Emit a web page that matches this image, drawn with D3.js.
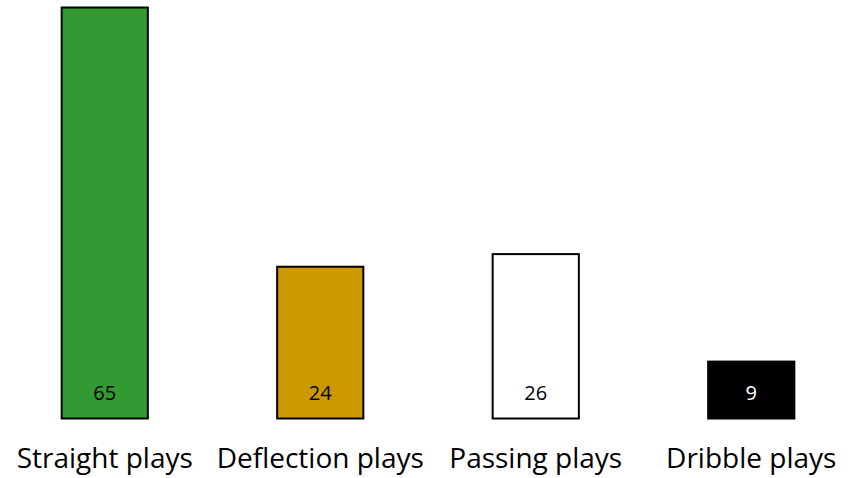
<!DOCTYPE html>
<html><head><meta charset="utf-8">
<script src="https://cdn.jsdelivr.net/npm/d3@7"></script>
<style>body{margin:0;background:#fff}svg{display:block}</style>
</head><body>
<svg id="c" width="854" height="478"></svg>
<script>
const categories = ["Straight plays", "Deflection plays", "Passing plays", "Dribble plays"];
const values = [65, 24, 26, 9];
const colors = ["#339933", "#cc9900", "#ffffff", "#000000"];
const labelColors = ["#000", "#000", "#000", "#fff"];

const svg = d3.select("#c");
const x = d3.scaleBand().domain(categories).range([-3, 859]).paddingInner(0.6).paddingOuter(0.3);
const y = d3.scaleLinear().domain([0, 65]).range([418.5, 7.5]);

svg.selectAll("rect.bar").data(values).join("rect")
  .attr("class", "bar")
  .attr("x", (d, i) => x(categories[i]))
  .attr("width", x.bandwidth())
  .attr("y", d => y(d))
  .attr("height", d => y(0) - y(d))
  .attr("fill", (d, i) => colors[i])
  .attr("stroke", "#000").attr("stroke-width", 2);

svg.selectAll("text.val").data(values).join("text")
  .attr("class", "val")
  .attr("x", (d, i) => x(categories[i]) + x.bandwidth() / 2)
  .attr("y", 400)
  .attr("text-anchor", "middle")
  .attr("font-family", "Open Sans, sans-serif")
  .attr("font-size", 20)
  .attr("fill", (d, i) => labelColors[i])
  .text(d => d);

const xAxis = svg.append("g").attr("transform", "translate(0,418.5)")
  .call(d3.axisBottom(x).tickSize(0));
xAxis.select(".domain").remove();
xAxis.selectAll("text")
  .attr("y", 49.5).attr("dy", 0)
  .attr("font-family", "Open Sans, sans-serif").attr("font-size", 28).attr("fill", "#000");
</script>
</body></html>
